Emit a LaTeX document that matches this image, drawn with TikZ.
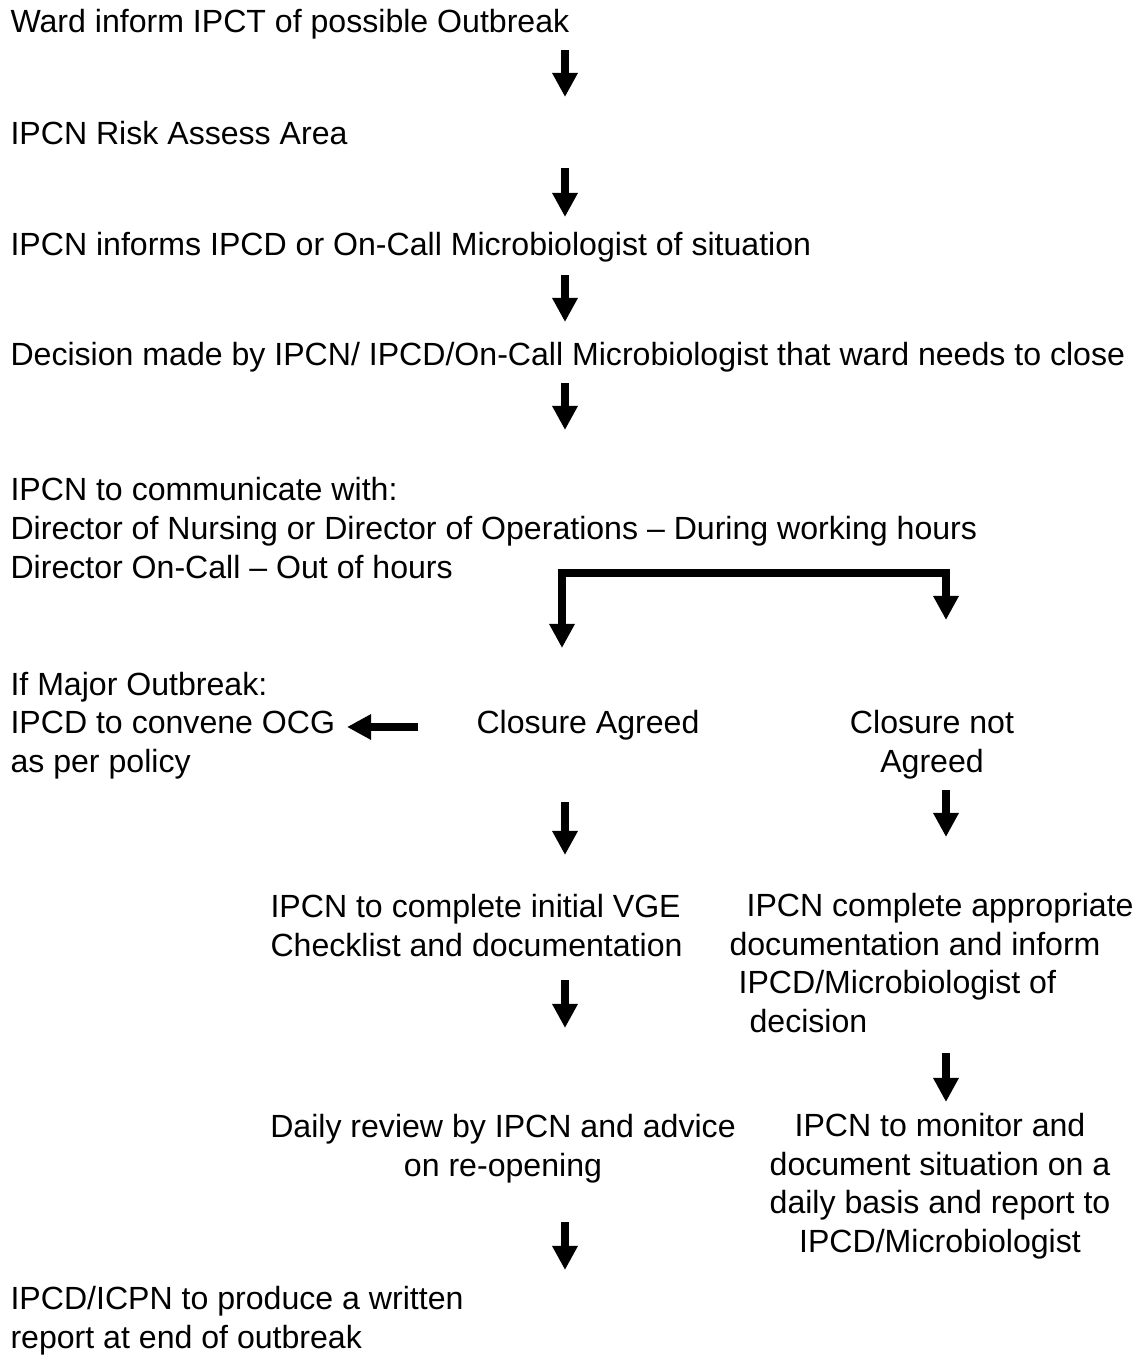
\documentclass[tikz,border=0pt]{standalone}
\usepackage{fontspec}
\setmainfont{Liberation Sans}
\usetikzlibrary{arrows.meta}
\begin{document}
\begin{tikzpicture}[x=0.374pt,y=-0.374pt,font=\fontsize{12}{14.4}\selectfont]
  \tikzstyle{step text}=[anchor=base west,inner sep=0,align=left]
  \tikzstyle{mid text}=[anchor=base,inner sep=0,align=center]
  \tikzstyle{flow}=[line width=3pt,-{Triangle[width=9pt,length=9pt]}]
  \useasboundingbox (0,0) rectangle (1141,1364);
  % main chain (multi-line nodes sit on their last baseline)
  \node[step text] (ward) at (10,33) {Ward inform IPCT of possible Outbreak};
  \node[step text] (risk) at (10,145) {IPCN Risk Assess Area};
  \node[step text] (inform) at (10,255) {IPCN informs IPCD or On-Call Microbiologist of situation};
  \node[step text] (decide) at (10,365) {Decision made by IPCN/ IPCD/On-Call Microbiologist that ward needs to close};
  \node[step text] (comm) at (10,578) {IPCN to communicate with:\\
    Director of Nursing or Director of Operations – During working hours\\
    Director On-Call – Out of hours};
  % branches
  \node[step text] (major) at (10,772) {If Major Outbreak:\\IPCD to convene OCG\\as per policy};
  \node[step text] (agreed) at (476,733) {Closure Agreed};
  \node[mid text] (notagreed) at (932,772) {Closure not\\Agreed};
  \node[step text] (vge) at (270,956) {IPCN to complete initial VGE\\Checklist and documentation};
  \node[step text] (docs) at (729,1032) {\hspace*{6.4pt}IPCN complete appropriate\\
    documentation and inform\\
    \hspace*{3.4pt}IPCD/Microbiologist of\\
    \hspace*{7.5pt}decision};
  \node[mid text] (review) at (503,1176) {Daily review by IPCN and advice\\on re-opening};
  \node[mid text] (monitor) at (940,1252) {IPCN to monitor and\\document situation on a\\daily basis and report to\\IPCD/Microbiologist};
  \node[step text] (report) at (10,1348) {IPCD/ICPN to produce a written\\report at end of outbreak};
  % arrow ends
  \coordinate (a1) at (565,50);   \coordinate (b1) at (565,97);
  \coordinate (a2) at (565,168);  \coordinate (b2) at (565,217);
  \coordinate (a3) at (565,275);  \coordinate (b3) at (565,322);
  \coordinate (a4) at (565,383);  \coordinate (b4) at (565,430);
  \coordinate (brl) at (562,573); \coordinate (brr) at (946,573);
  \coordinate (tipl) at (562,648); \coordinate (tipr) at (946,620);
  \coordinate (ocg) at (418,727); \coordinate (ocgtip) at (347,727);
  \coordinate (a5) at (565,802);  \coordinate (b5) at (565,855);
  \coordinate (a6) at (946,790);  \coordinate (b6) at (946,837);
  \coordinate (a7) at (565,980);  \coordinate (b7) at (565,1028);
  \coordinate (a8) at (946,1053); \coordinate (b8) at (946,1102);
  \coordinate (a9) at (565,1222); \coordinate (b9) at (565,1270);
  % arrows
  \draw[flow] (a1) -- (b1);
  \draw[flow] (a2) -- (b2);
  \draw[flow] (a3) -- (b3);
  \draw[flow] (a4) -- (b4);
  \draw[flow] (brr) -- (brl) -- (tipl);
  \draw[flow] (brl) -- (brr) -- (tipr);
  \draw[flow] (ocg) -- (ocgtip);
  \draw[flow] (a5) -- (b5);
  \draw[flow] (a6) -- (b6);
  \draw[flow] (a7) -- (b7);
  \draw[flow] (a8) -- (b8);
  \draw[flow] (a9) -- (b9);
\end{tikzpicture}
\end{document}
